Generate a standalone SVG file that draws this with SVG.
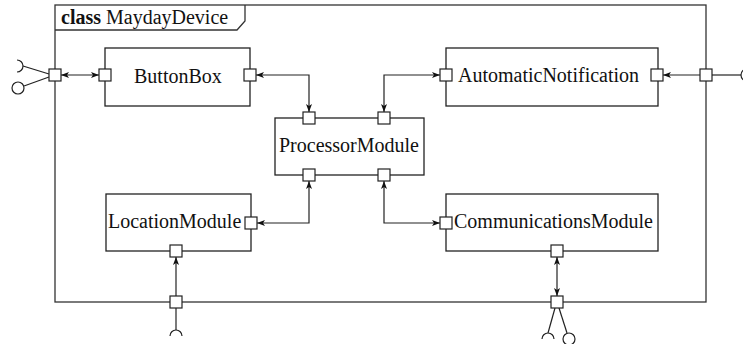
<svg xmlns="http://www.w3.org/2000/svg" width="743" height="344" viewBox="0 0 743 344">
<style>
.box{fill:#fff;stroke:#222;stroke-width:1.3}
.frame{fill:none;stroke:#333;stroke-width:1.3}
.port{fill:#fff;stroke:#222;stroke-width:1.2}
.con{fill:none;stroke:#222;stroke-width:1.2}
.lbl{font-family:"Liberation Serif","Times New Roman",serif;font-size:20px;fill:#111}
.b{font-weight:bold}
</style>
<defs>
<marker id="ah" viewBox="0 0 8 6" refX="8" refY="3" markerWidth="8" markerHeight="6" markerUnits="userSpaceOnUse" orient="auto-start-reverse">
<path d="M0,0 L8,3 L0,6 L2,3 Z" fill="#111"/>
</marker>
</defs>
<rect fill="#fff" x="0" y="0" width="743" height="344"/>
<g id="frame">
<rect class="frame" x="55" y="5" width="651" height="297"/>
<path class="frame" d="M55,30 H237 L245,21 V5"/>
<text class="lbl" x="61" y="24"><tspan class="b">class</tspan> MaydayDevice</text>
</g>
<g id="connectors">
<path class="con" d="M61,75 H99" marker-start="url(#ah)" marker-end="url(#ah)"/>
<path class="con" d="M256,75 H309 V112" marker-start="url(#ah)" marker-end="url(#ah)"/>
<path class="con" d="M384,112 V75 H440" marker-start="url(#ah)" marker-end="url(#ah)"/>
<path class="con" d="M309,181 V223 H257" marker-start="url(#ah)" marker-end="url(#ah)"/>
<path class="con" d="M384,181 V223 H440" marker-start="url(#ah)" marker-end="url(#ah)"/>
<path class="con" d="M700,75 H663" marker-end="url(#ah)"/>
<path class="con" d="M712,75 H741"/>
<circle class="con" cx="747" cy="75" r="6"/>
<path class="con" d="M176,296 V257" marker-end="url(#ah)"/>
<path class="con" d="M557,296 V257" marker-start="url(#ah)" marker-end="url(#ah)"/>
<path class="con" d="M49,74 L23,66"/>
<path class="con" d="M17,60 A6,6 0 0 1 17,72"/>
<path class="con" d="M49,77 L24,86"/>
<circle class="con" cx="18" cy="88" r="6"/>
<path class="con" d="M176,308 V330"/>
<path class="con" d="M170,336 A6,6 0 0 1 182,336"/>
<path class="con" d="M555,308 L548,333"/>
<path class="con" d="M542,339 A6,6 0 0 1 554,339"/>
<path class="con" d="M559,308 L567,333"/>
<circle class="con" cx="569" cy="339" r="6"/>
</g>
<g id="ButtonBox">
<rect class="box" x="105" y="48" width="145" height="58"/>
<text class="lbl" x="134" y="83">ButtonBox</text>
<rect class="port" x="99" y="69" width="12" height="12"/>
<rect class="port" x="244" y="69" width="12" height="12"/>
</g>
<g id="AutomaticNotification">
<rect class="box" x="446" y="48" width="212" height="58"/>
<text class="lbl" x="458" y="82">AutomaticNotification</text>
<rect class="port" x="440" y="69" width="12" height="12"/>
<rect class="port" x="651" y="69" width="12" height="12"/>
</g>
<g id="ProcessorModule">
<rect class="box" x="275" y="118" width="149" height="57"/>
<text class="lbl" x="279" y="152">ProcessorModule</text>
<rect class="port" x="303" y="112" width="12" height="12"/>
<rect class="port" x="378" y="112" width="12" height="12"/>
<rect class="port" x="303" y="169" width="12" height="12"/>
<rect class="port" x="378" y="169" width="12" height="12"/>
</g>
<g id="LocationModule">
<rect class="box" x="106" y="194" width="145" height="57"/>
<text class="lbl" x="108" y="228">LocationModule</text>
<rect class="port" x="245" y="217" width="12" height="12"/>
<rect class="port" x="170" y="245" width="12" height="12"/>
</g>
<g id="CommunicationsModule">
<rect class="box" x="446" y="194" width="212" height="57"/>
<text class="lbl" x="454" y="228">CommunicationsModule</text>
<rect class="port" x="440" y="217" width="12" height="12"/>
<rect class="port" x="551" y="245" width="12" height="12"/>
</g>
<g id="frame-ports">
<rect class="port" x="49" y="69" width="12" height="12"/>
<rect class="port" x="700" y="69" width="12" height="12"/>
<rect class="port" x="170" y="296" width="12" height="12"/>
<rect class="port" x="551" y="296" width="12" height="12"/>
</g>
</svg>
